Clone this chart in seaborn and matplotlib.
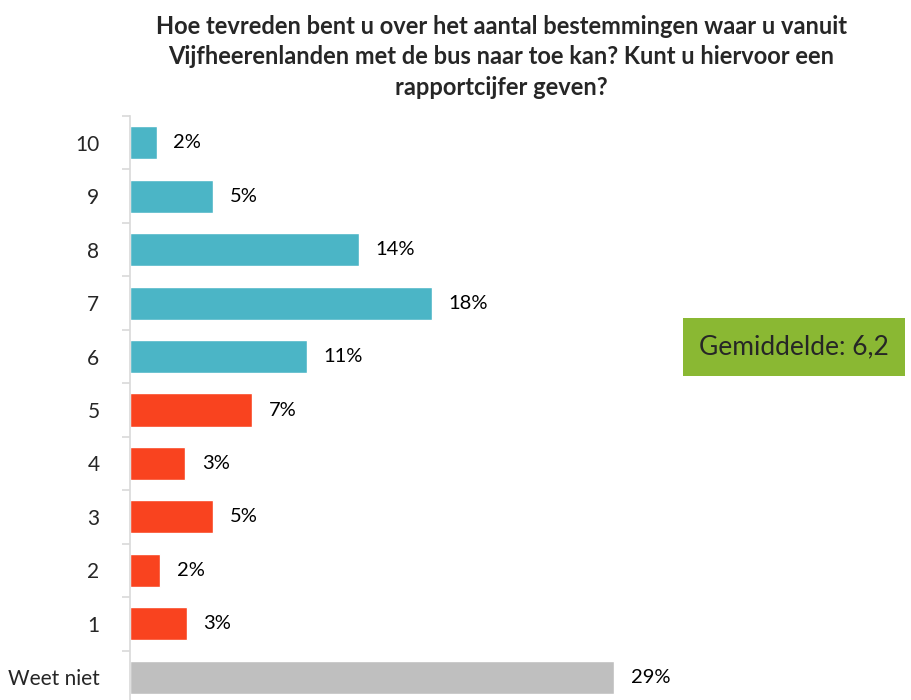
import pandas as pd
import seaborn as sns
import matplotlib.pyplot as plt
from matplotlib.ticker import FixedLocator

# ----------------------------- DATA --------------------------------------------------------------------

categories = ["10", "9", "8", "7", "6", "5", "4", "3", "2", "1", "Weet niet"]
values = [1.6, 5.0, 13.7, 18.1, 10.6, 7.3, 3.3, 5.0, 1.8, 3.4, 29.0]
labels = ["2%", "5%", "14%", "18%", "11%", "7%", "3%", "5%", "2%", "3%", "29%"]
groups = ["hoog"] * 5 + ["laag"] * 5 + ["weet niet"]

title = ("Hoe tevreden bent u over het aantal bestemmingen waar u vanuit\n"
         "Vijfheerenlanden met de bus naar toe kan? Kunt u hiervoor een\n"
         "rapportcijfer geven?")
mean_text = "Gemiddelde: 6,2"

palette = {"hoog": "#4BB5C6", "laag": "#F9431F", "weet niet": "#BFBFBF"}

df = pd.DataFrame({"cat": categories, "val": values, "grp": groups})

# ----------------------------- PLOT --------------------------------------------------------------------

sns.set_style("white", {"ytick.left": True})
plt.rcParams["font.family"] = ["Lato", "DejaVu Sans"]

fig = plt.figure(figsize=(9.11, 7), dpi=100)
ax = fig.add_axes([130 / 911, -4 / 700, 751 / 911, 588 / 700])

sns.barplot(data=df, y="cat", x="val", hue="grp", palette=palette, dodge=False,
            width=0.62, saturation=1, legend=False, ax=ax, order=categories)

for i, (v, lab) in enumerate(zip(values, labels)):
    ax.text(v + 1.0, i, lab, va="center", ha="left", fontsize=14.5, color="#000000")

ax.set_xlim(0, 45)
ax.set_ylim(len(categories) - 0.5, -0.5)
ax.set_xlabel("")
ax.set_ylabel("")
ax.set_xticks([])

for side in ["top", "right", "bottom"]:
    ax.spines[side].set_visible(False)
ax.spines["left"].set_color("#D9D9D9")
ax.spines["left"].set_linewidth(1.2)

ax.tick_params(axis="y", which="major", length=0, pad=22, labelsize=15)
ax.yaxis.set_minor_locator(FixedLocator([i - 0.5 for i in range(len(categories) + 1)]))
ax.tick_params(axis="y", which="minor", left=True, length=6, color="#D9D9D9",
               width=1.2, direction="out")

fig.text(501 / 911, 1 - 57 / 700, title, ha="center", va="center", fontsize=17,
         fontweight="bold", linespacing=1.42)

fig.text(794 / 911, 1 - 347 / 700, mean_text, ha="center", va="center", fontsize=19,
         bbox=dict(boxstyle="square,pad=0.62", facecolor="#8AB833", edgecolor="none"))

plt.savefig("out.png", dpi=100)
plt.close()
